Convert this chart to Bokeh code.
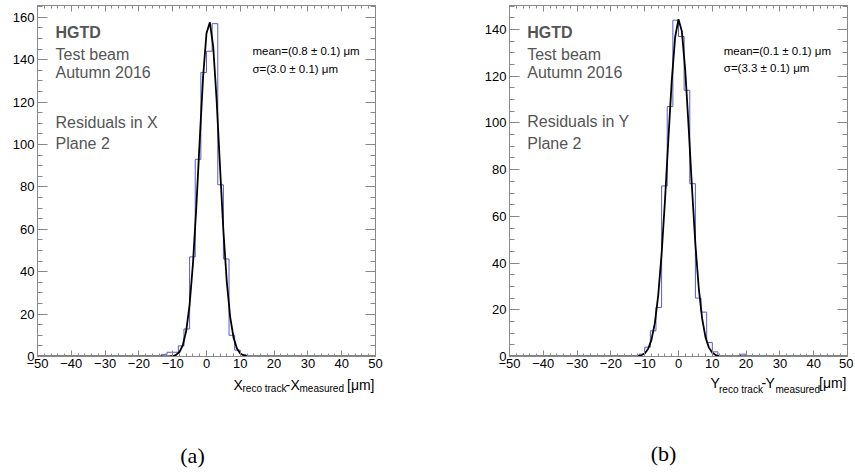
import numpy as np
from bokeh.plotting import figure
from bokeh.models import (Range1d, LinearAxis, SingleIntervalTicker, Label,
                          CustomJSTickFormatter)
from bokeh.layouts import row, column
from bokeh.embed import file_html
from bokeh.resources import INLINE

# ---------------- data ----------------
BIN_LO, BIN_HI, N_BINS = -50.0, 50.0, 60

# residual histograms (counts per bin, 60 bins from -50 to 50 um)
counts_x = [0] * 22 + [1, 2, 2, 5, 13, 47, 93, 134, 144, 157, 81, 46, 10, 3, 1] + [0] * 23
counts_y = ([0] * 23 + [1, 4, 11, 21, 73, 107, 144, 137, 114, 74, 25, 19, 6, 2]
            + [0] * 4 + [1] + [0] * 18)

# gaussian fit curves
fit_x = [-50] + list(range(-15, 16)) + [50]
fit_x_vals = [0, 0, 0, 0.005, 0.02, 0.07, 0.24, 0.76, 2.1, 5.4, 12.1, 24.4, 43.9, 70.8,
              102.2, 132, 152.5, 157.6, 145.9, 120.8, 89.4, 59.3, 35.2, 18.7, 8.9, 3.8,
              1.4, 0.5, 0.15, 0.04, 0.01, 0, 0]
fit_y_vals = [0, 0, 0.02, 0.05, 0.17, 0.5, 1.3, 3.2, 7.1, 14.3, 26.2, 43.8, 66.8, 92.9,
              118, 136.7, 144.4, 139.2, 122.4, 98.2, 71.9, 48, 29.2, 16.2, 8.2, 3.8,
              1.6, 0.6, 0.2, 0.06, 0.02, 0, 0]

x_tick_interval = 10
y_tick_interval = 20

GREY = "#888888"
TXT_GREY = "#555555"
FONT = "Liberation Sans"

FRAME_W = 338
FRAME_H = 351
TOP = 5
AX_H = 18


def make_panel(counts, fit_vals, y_max, mb_left, mb_right, texts):
    p = figure(frame_width=FRAME_W, frame_height=FRAME_H,
               x_range=Range1d(BIN_LO, BIN_HI), y_range=Range1d(0, y_max),
               output_backend="svg", toolbar_location=None,
               min_border_left=mb_left, min_border_right=mb_right,
               min_border_top=TOP, min_border_bottom=AX_H,
               background_fill_color="white", border_fill_color="white")
    p.grid.visible = False
    p.outline_line_color = GREY
    p.outline_line_width = 1

    xt = SingleIntervalTicker(interval=x_tick_interval, num_minor_ticks=5)
    yt = SingleIntervalTicker(interval=y_tick_interval, num_minor_ticks=4)
    fmt = CustomJSTickFormatter(
        code="return tick < 0 ? '\\u2212' + Math.abs(tick) : String(tick);")

    xa = p.xaxis[0]
    ya = p.yaxis[0]
    for ax, tk, maj, mnr in ((xa, xt, 6, 3), (ya, yt, 10, 5)):
        ax.ticker = tk
        ax.major_tick_in = maj
        ax.major_tick_out = 0
        ax.minor_tick_in = mnr
        ax.minor_tick_out = 0
        ax.axis_line_color = GREY
        ax.major_tick_line_color = GREY
        ax.minor_tick_line_color = GREY
        ax.major_label_text_font = FONT
        ax.major_label_text_font_size = "13px"
        ax.major_label_text_color = "black"
        ax.major_label_standoff = 3
    xa.major_label_standoff = 2
    xa.formatter = fmt

    # mirrored tick-only axes (top and right)
    for loc, tk, maj, mnr in (("above", xt, 6, 3), ("right", yt, 10, 5)):
        ax = LinearAxis(ticker=tk, major_tick_in=maj, major_tick_out=0,
                        minor_tick_in=mnr, minor_tick_out=0,
                        axis_line_color=GREY, major_tick_line_color=GREY,
                        minor_tick_line_color=GREY,
                        major_label_text_font_size="1px",
                        major_label_text_alpha=0,
                        major_label_standoff=0)
        p.add_layout(ax, loc)

    edges = np.linspace(BIN_LO, BIN_HI, N_BINS + 1)
    p.step(x=edges, y=list(counts) + [counts[-1]], mode="after",
           line_color="#5a5acc", line_width=1)
    p.line(x=fit_x, y=fit_vals, line_color="black", line_width=1.8)

    for (t, x, y, size, bold, color) in texts:
        p.add_layout(Label(x=x, y=y, text=t, text_font=FONT, text_font_size=size,
                           text_font_style="bold" if bold else "normal",
                           text_color=color, text_baseline="alphabetic",
                           text_align="left"))
    return p


texts_a = [
    ("HGTD", -44.67, 152.7, "16px", True, TXT_GREY),
    ("Test beam", -44.67, 142.5, "16px", False, TXT_GREY),
    ("Autumn 2016", -44.67, 133.8, "16px", False, TXT_GREY),
    ("Residuals in X", -44.67, 110.5, "16px", False, TXT_GREY),
    ("Plane 2", -44.67, 100.3, "16px", False, TXT_GREY),
    ("mean=(0.8 \u00b1 0.1) \u03bcm", 13.6, 143.9, "11.5px", False, "black"),
    ("\u03c3=(3.0 \u00b1 0.1) \u03bcm", 13.6, 135.8, "11.5px", False, "black"),
]
texts_b = [
    ("HGTD", -44.76, 138.7, "16px", True, TXT_GREY),
    ("Test beam", -44.76, 129.4, "16px", False, TXT_GREY),
    ("Autumn 2016", -44.76, 121.6, "16px", False, TXT_GREY),
    ("Residuals in Y", -44.76, 100.4, "16px", False, TXT_GREY),
    ("Plane 2", -44.76, 91.2, "16px", False, TXT_GREY),
    ("mean=(0.1 \u00b1 0.1) \u03bcm", 13.4, 130.7, "11.5px", False, "black"),
    ("\u03c3=(3.3 \u00b1 0.1) \u03bcm", 13.4, 123.4, "11.5px", False, "black"),
]

pa = make_panel(counts_x, fit_x_vals, FRAME_H / 2.12, 37, 106, texts_a)
pb = make_panel(counts_y, fit_y_vals, FRAME_H / 2.3357, 28, 6, texts_b)

# ---------- bottom strip: axis titles and captions (page-pixel coords) ----------
STRIP_TOP = TOP + FRAME_H + AX_H
STRIP_H = 470 - STRIP_TOP
strip = figure(width=853, height=STRIP_H, x_range=Range1d(0, 853),
               y_range=Range1d(STRIP_TOP + STRIP_H, STRIP_TOP),
               x_axis_type=None, y_axis_type=None, output_backend="svg",
               toolbar_location=None, min_border=0, outline_line_color=None,
               background_fill_color="white", border_fill_color="white")
strip.grid.visible = False

title_runs = [
    ("X", 233, 384, "14px"), ("reco track", 242, 388, "10px"), ("-", 285, 384, "14px"),
    ("X", 290, 384, "14px"), ("measured", 299, 388, "10px"), ("[\u03bcm]", 346.5, 384, "14px"),
    ("Y", 710, 382, "14px"), ("reco track", 718.5, 389, "10px"), ("-", 761, 382, "14px"),
    ("Y", 765, 382, "14px"), ("measured", 775, 389, "10px"), ("[\u03bcm]", 818.5, 382, "14px"),
]
for t, x, y, size in title_runs:
    strip.add_layout(Label(x=x, y=y, text=t, text_font=FONT, text_font_size=size,
                           text_color="black", text_baseline="alphabetic",
                           text_align="left"))
for t, x, y in (("(a)", 192, 455), ("(b)", 663, 453)):
    strip.add_layout(Label(x=x, y=y, text=t, text_font="Liberation Serif",
                           text_font_size="22px", text_color="black",
                           text_baseline="middle", text_align="center"))

layout = column(row(pa, pb, spacing=0), strip, spacing=0)
open("out.html", "w").write(file_html(layout, INLINE))
